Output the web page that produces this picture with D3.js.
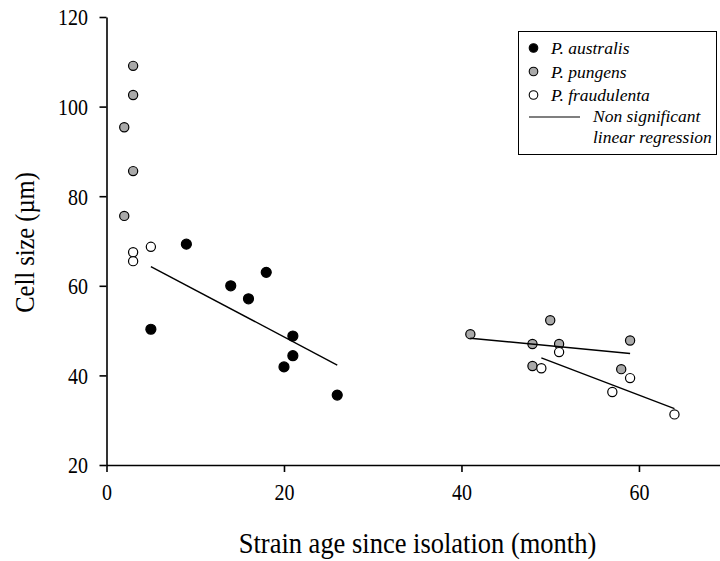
<!DOCTYPE html>
<html><head><meta charset="utf-8">
<script src="https://cdn.jsdelivr.net/npm/d3@7"></script>
<style>body{margin:0;background:#fff}svg{display:block}</style>
</head><body>
<svg id="c" width="720" height="561" font-family="Liberation Serif, Times New Roman, DejaVu Serif, serif"></svg>
<script>
const australisX = [5, 9, 14, 16, 18, 20, 21, 21, 26];
const australisY = [50.3, 69.3, 60.0, 57.1, 63.0, 41.9, 48.8, 44.4, 35.6];
const pungensX = [2, 2, 3, 3, 3, 41, 48, 48, 50, 51, 58, 59];
const pungensY = [95.4, 75.6, 109.1, 102.6, 85.6, 49.2, 47.0, 42.1, 52.3, 47.0, 41.4, 47.8];
const fraudX = [3, 3, 5, 49, 51, 57, 59, 64];
const fraudY = [67.5, 65.5, 68.7, 41.6, 45.2, 36.3, 39.4, 31.3];
const regAustralis = [[5, 64.3], [26, 42.3]];
const regPungens = [[41, 48.3], [59, 44.9]];
const regFraud = [[49, 43.9], [64, 32.6]];
const xTicks = [0, 20, 40, 60];
const yTicks = [20, 40, 60, 80, 100, 120];
const legendLabels = ["P. australis", "P. pungens", "P. fraudulenta"];
const regLabel = ["Non significant", "linear regression"];

const FONT = "Liberation Serif, Times New Roman, DejaVu Serif, serif";
const STRETCH = 1.15;
const svg = d3.select("#c");
const x = d3.scaleLinear().domain([0, 70]).range([106.5, 727.7]);
const y = d3.scaleLinear().domain([20, 120]).range([465, 17]);

const xAxis = svg.append("g").attr("transform", "translate(0,465)")
  .call(d3.axisBottom(x).tickValues(xTicks).tickSize(7).tickPadding(8).tickSizeOuter(0));
const yAxis = svg.append("g").attr("transform", "translate(106.5,0)")
  .call(d3.axisLeft(y).tickValues(yTicks).tickSize(7).tickPadding(11.5).tickSizeOuter(0));
[xAxis, yAxis].forEach(g => {
  g.attr("font-family", FONT).attr("font-size", 20);
  g.selectAll("path,line").attr("stroke", "#000").attr("stroke-width", 1.6);
  g.selectAll("text").attr("fill", "#000");
});
// slightly taller glyphs, as in the reference
xAxis.selectAll(".tick text").attr("dy", 0).attr("y", 35 / STRETCH)
  .attr("transform", `scale(1,${STRETCH})`);
yAxis.selectAll(".tick text").attr("dy", "0.34em")
  .attr("transform", `scale(1,${STRETCH})`);

svg.append("text").attr("transform", `translate(417.5,553) scale(1,${STRETCH})`).attr("text-anchor", "middle")
  .attr("font-size", 26.5).text("Strain age since isolation (month)");
svg.append("text").attr("transform", `translate(33.5,242.5) rotate(-90) scale(1,${STRETCH})`).attr("text-anchor", "middle")
  .attr("font-size", 24.5).text("Cell size (\u00b5m)");

function pts(xs, ys, fill, r) {
  svg.append("g").selectAll("circle").data(xs.map((d, i) => [d, ys[i]])).join("circle")
    .attr("cx", d => x(d[0])).attr("cy", d => y(d[1])).attr("r", r)
    .attr("fill", fill).attr("stroke", "#000").attr("stroke-width", 1.2);
}
pts(pungensX, pungensY, "#a9a9a9", 4.6);
pts(fraudX, fraudY, "#fff", 4.6);
pts(australisX, australisY, "#000", 5);

const line = d3.line().x(d => x(d[0])).y(d => y(d[1]));
[regAustralis, regPungens, regFraud].forEach(r => {
  svg.append("path").attr("d", line(r)).attr("stroke", "#000").attr("stroke-width", 1.4).attr("fill", "none");
});

// legend
const lg = svg.append("g").attr("font-family", FONT).attr("font-style", "italic").attr("font-size", 17.5);
lg.append("rect").attr("x", 518.5).attr("y", 31.5).attr("width", 198).attr("height", 123)
  .attr("fill", "#fff").attr("stroke", "#000").attr("stroke-width", 1);
const fills = ["#000", "#a9a9a9", "#fff"];
legendLabels.forEach((t, i) => {
  const yy = 48 + i * 23.5;
  lg.append("circle").attr("cx", 533.5).attr("cy", yy).attr("r", 4.3)
    .attr("fill", fills[i]).attr("stroke", "#000").attr("stroke-width", 1.1);
  lg.append("text").attr("x", 551).attr("y", yy + 6).text(t);
});
lg.append("line").attr("x1", 529).attr("x2", 580).attr("y1", 117).attr("y2", 117)
  .attr("stroke", "#000").attr("stroke-width", 1.1);
regLabel.forEach((t, i) => {
  lg.append("text").attr("x", 593).attr("y", 122 + i * 21).text(t);
});
</script>
</body></html>
